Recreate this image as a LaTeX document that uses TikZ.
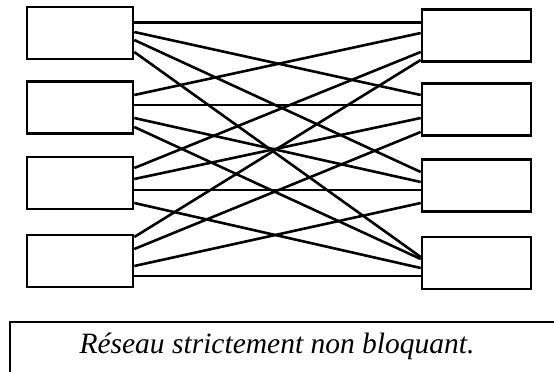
\documentclass[tikz,border=0pt]{standalone}
\usepackage{fontspec}
\setmainfont{Liberation Serif}
\begin{document}
\begin{tikzpicture}[x=1pt,y=-1pt,
  switchbox/.style={draw,line width=2.6pt,inner sep=0pt,minimum height=52pt},
  leftbox/.style={switchbox,minimum width=106pt},
  rightbox/.style={switchbox,minimum width=109pt},
  wire/.style={line width=2.6pt},
  frame/.style={line width=1.6pt}]
\useasboundingbox (0,0) rectangle (554,372);

% input stage
\node[leftbox] (L1) at (80,33) {};
\node[leftbox] (L2) at (80,107.5) {};
\node[leftbox] (L3) at (80,183) {};
\node[leftbox] (L4) at (80,261) {};

% output stage
\node[rightbox] (R1) at (476.5,35.5) {};
\node[rightbox] (R2) at (476.5,109.5) {};
\node[rightbox] (R3) at (476.5,185.5) {};
\node[rightbox] (R4) at (476.5,263) {};

% full interconnection: input i, port j  ->  output j, port i
\foreach \i/\j/\a/\b in {
  1/1/22.7/22.7, 1/2/32/95,   1/3/40/172,  1/4/52/257,
  2/1/95/33,     2/2/105/105, 2/3/118/182, 2/4/127/259,
  3/1/168/52,    3/2/179/118, 3/3/190/190, 3/4/203/268,
  4/1/237/60,    4/2/249/132, 4/3/266/203, 4/4/276/276}
  \draw[wire] (L\i.east |- 0,\a) -- (R\j.west |- 0,\b);

% caption frame
\coordinate (fb) at (10,372);
\coordinate (ft) at (10,322);
\coordinate (fr) at (554,322);
\draw[frame] (fb) -- (ft) -- (fr);
\node[anchor=base,inner sep=0pt,font=\fontsize{29.5}{31}\selectfont\itshape] (cap) at (277,353)
  {Réseau strictement non bloquant.};
\end{tikzpicture}
\end{document}
